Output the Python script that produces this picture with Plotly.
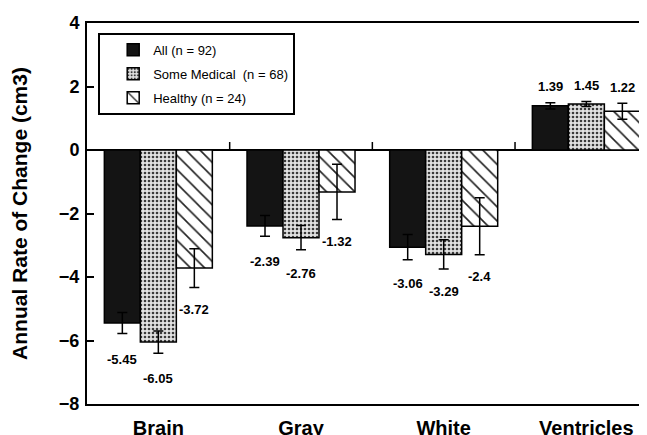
import plotly.graph_objects as go

categories = ["Brain", "Gray", "White", "Ventricles"]
series_names = ["All (n = 92)", "Some Medical\u00a0 (n = 68)", "Healthy (n = 24)"]
all_vals = [-5.45, -2.39, -3.06, 1.39]
med_vals = [-6.05, -2.76, -3.29, 1.45]
hea_vals = [-3.72, -1.32, -2.4, 1.22]
all_err = [0.33, 0.33, 0.40, 0.10]
med_err = [0.35, 0.38, 0.46, 0.08]
hea_err = [0.61, 0.87, 0.90, 0.25]
y_ticks = [-8, -6, -4, -2, 0, 2, 4]

FONT = "Liberation Sans, Arial, sans-serif"
bargap = 0.243
Y_RANGE = [-8, 4]
FIG_H, M_T, M_B = 427, 15, 31

styles = [
    dict(color="#141414", pattern=dict(shape="")),
    dict(color="#d8d8d8", pattern=dict(shape=".", fgcolor="#3a3a3a", bgcolor="#e2e2e2",
                                      size=4, solidity=0.33, fillmode="replace")),
    dict(color="white", pattern=dict(shape="\\", fgcolor="#222222", bgcolor="white",
                                     size=10, solidity=0.16, fillmode="replace")),
]

vals = [all_vals, med_vals, hea_vals]
errs = [all_err, med_err, hea_err]

fig = go.Figure()
for i, (name, v, e) in enumerate(zip(series_names, vals, errs)):
    st = styles[i]
    fig.add_trace(go.Bar(
        x=categories, y=v, name=name, legendgroup=f"g{i}",
        marker=dict(color=st["color"], pattern=st["pattern"],
                    line=dict(color="black", width=1.5)),
        error_y=dict(type="data", array=e, visible=True, color="black",
                     thickness=1.5, width=5),
    ))

# pixels per data unit on the y axis, used to place value labels
ppu = (FIG_H - M_T - M_B) / (Y_RANGE[1] - Y_RANGE[0])
w = (1 - bargap) / 3
annotations = []
for i, (v, e) in enumerate(zip(vals, errs)):
    for j, (val, er) in enumerate(zip(v, e)):
        if val < 0:
            y = min(val - 36 / ppu, val - er - 22 / ppu)
        else:
            y = val + er + 16 / ppu
        annotations.append(dict(
            x=j + (i - 1) * w, y=y, xref="x", yref="y",
            text=f"{val:g}", showarrow=False,
            font=dict(family=FONT, size=13, color="black", weight="bold"),
        ))

shapes = []
for k in range(len(categories) - 1):
    shapes.append(dict(type="line", xref="x", yref="y", ysizemode="pixel",
                       x0=k + 0.5, x1=k + 0.5, yanchor=0, y0=0, y1=8,
                       line=dict(color="black", width=1.5)))

# page body has an 8px default margin, so the figure is sized to fit the window
fig.update_layout(
    width=639, height=FIG_H,
    margin=dict(l=79, r=0, t=M_T, b=M_B, autoexpand=False),
    paper_bgcolor="white", plot_bgcolor="white",
    barmode="group", bargap=bargap, bargroupgap=0,
    font=dict(family=FONT, color="black"),
    showlegend=True,
    legend=dict(x=0.02, y=0.974, xanchor="left", yanchor="top",
                bordercolor="black", borderwidth=2, bgcolor="white",
                font=dict(family=FONT, size=13, color="black"),
                tracegroupgap=4, indentation=13, entrywidth=196,
                traceorder="grouped"),
    annotations=annotations,
    shapes=shapes,
)
fig.update_xaxes(
    range=[-0.5, 3.425], showline=True, linecolor="black", linewidth=2,
    mirror=True, ticks="", showgrid=False, automargin=False,
    tickfont=dict(family=FONT, size=20, color="black", weight="bold"),
    ticklabelstandoff=5,
)
fig.update_yaxes(
    range=Y_RANGE, tickvals=y_ticks, ticks="inside", ticklen=7, tickwidth=1.5,
    tickcolor="black", showline=True, linecolor="black", linewidth=2,
    showgrid=False, zeroline=True, zerolinecolor="black", zerolinewidth=1.5,
    automargin=False,
    tickfont=dict(family=FONT, size=18, color="black", weight="bold"),
    ticklabelstandoff=2,
    title=dict(text="Annual Rate of Change (cm3)", standoff=30,
               font=dict(family=FONT, size=21, color="black", weight="bold")),
)

fig.write_html("out.html")
